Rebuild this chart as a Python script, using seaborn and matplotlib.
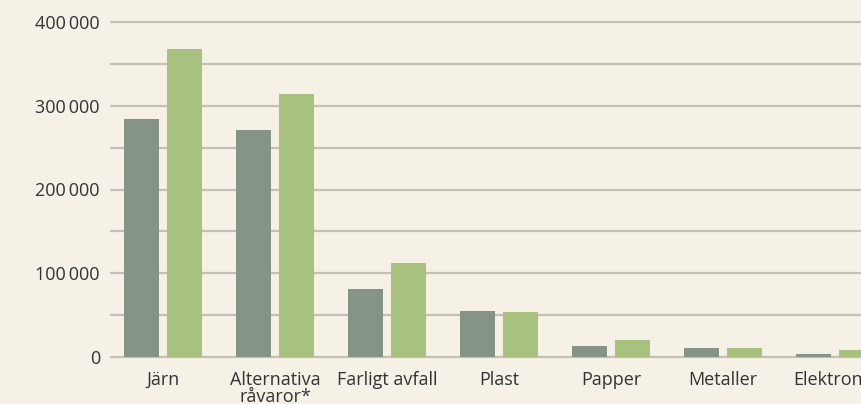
import matplotlib
matplotlib.use("Agg")
import matplotlib.pyplot as plt
import seaborn as sns
import pandas as pd

categories = ["Järn", "Alternativa\nråvaror*", "Farligt avfall", "Plast", "Papper", "Metaller", "Elektronik"]
series_a = [284000, 271000, 81000, 55000, 13000, 11000, 3600]
series_b = [368000, 314000, 112000, 54000, 20000, 11000, 8400]
series_names = ["A", "B"]
yticks = [0, 100000, 200000, 300000, 400000]

df = pd.DataFrame({
    "cat": categories * 2,
    "val": series_a + series_b,
    "ser": [series_names[0]] * len(categories) + [series_names[1]] * len(categories),
})

sns.set_theme(style="white")
plt.rcParams["font.family"] = ["Open Sans", "DejaVu Sans"]

bg = "#f5f1e7"
fig = plt.figure(figsize=(8.61, 4.04), dpi=100, facecolor=bg)
ax = fig.add_axes([111/861, 47/404, 1 - 111/861, 335/404])
ax.set_facecolor(bg)

sns.barplot(data=df, x="cat", y="val", hue="ser", order=categories,
            palette=["#859484", "#a8c17e"], width=0.768, gap=0.186,
            legend=False, ax=ax, saturation=1, zorder=3,
            linewidth=0, edgecolor="none")

ax.set_ylim(0, 400000)
ax.set_xlim(-0.464, 6.23)
ax.set_yticks(yticks)
ax.set_yticklabels([f"{v:,}".replace(",", "\u2009") for v in yticks])
for y in range(0, 400001, 50000):
    ax.axhline(y, color="#c2bfb7", lw=1.6, zorder=1, clip_on=False)
for s in ax.spines.values():
    s.set_visible(False)
ax.set_xlabel("")
ax.set_ylabel("")
ax.tick_params(axis="y", length=0, pad=8, labelsize=13, labelcolor="#333333")
ax.tick_params(axis="x", length=0, pad=10, labelsize=13, labelcolor="#333333")
for lab in ax.get_xticklabels():
    lab.set_linespacing(0.95)

fig.savefig("out.png", dpi=100, facecolor=bg)
